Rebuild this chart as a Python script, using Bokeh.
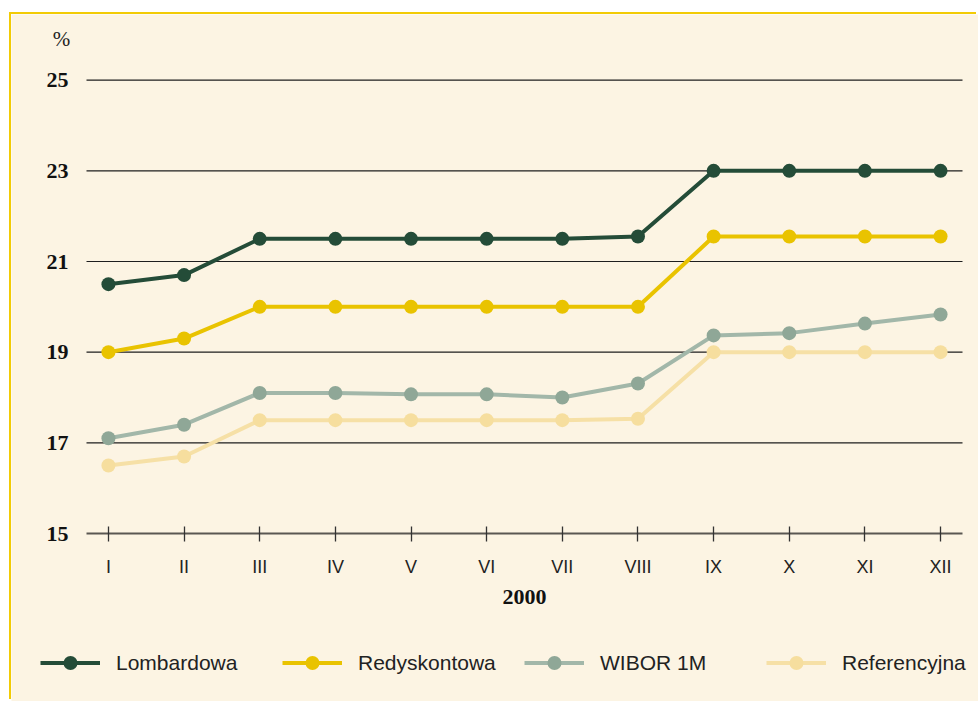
from bokeh.plotting import figure
from bokeh.models import FixedTicker, Legend, LegendItem, Label, Range1d
from bokeh.embed import file_html
from bokeh.resources import INLINE

months = ["I", "II", "III", "IV", "V", "VI", "VII", "VIII", "IX", "X", "XI", "XII"]
lombardowa = [20.5, 20.7, 21.5, 21.5, 21.5, 21.5, 21.5, 21.55, 23.0, 23.0, 23.0, 23.0]
redyskontowa = [19.0, 19.3, 20.0, 20.0, 20.0, 20.0, 20.0, 20.0, 21.55, 21.55, 21.55, 21.55]
wibor_1m = [17.1, 17.4, 18.1, 18.1, 18.07, 18.07, 18.0, 18.31, 19.37, 19.42, 19.63, 19.83]
referencyjna = [16.5, 16.7, 17.5, 17.5, 17.5, 17.5, 17.5, 17.53, 19.0, 19.0, 19.0, 19.0]
series_names = ["Lombardowa", "Redyskontowa", "WIBOR 1M", "Referencyjna"]
y_ticks = [15, 17, 19, 21, 23, 25]
year_label = "2000"
unit_label = "%"

BG = "#fcf4e3"
line_colors = ["#244c38", "#e9c300", "#a2b7a9", "#f6e0a6"]
marker_colors = ["#244c38", "#e9c300", "#8fa797", "#f6de9e"]

x = list(range(len(months)))

# layout geometry (pixels)
W, H = 967, 687
PLOT_L, PLOT_W = 75, 876          # plotting area left / width inside canvas
PLOT_T, PLOT_H = 43, 476          # plotting area top / height inside canvas
X_LO, X_HI = -0.29, len(months) - 1 + 0.29
Y_LO, Y_HI = min(y_ticks), max(y_ticks) + 0.5
xs = (X_HI - X_LO) / PLOT_W
ys = (Y_HI - Y_LO) / PLOT_H
x_range = Range1d(X_LO - PLOT_L * xs, X_LO + (W - PLOT_L) * xs)
y_range = Range1d(Y_LO - (H - PLOT_T - PLOT_H) * ys, Y_HI + PLOT_T * ys)

p = figure(width=W, height=H, x_range=x_range, y_range=y_range,
           output_backend="svg", toolbar_location=None, min_border=0,
           background_fill_color=BG, border_fill_color=BG,
           outline_line_color=None)

p.styles = {"position": "relative", "left": "11px", "top": "14px",
            "box-shadow": "-2px -2px 0 0 #f2cb05"}

# x axis
p.xaxis.fixed_location = Y_LO
p.xaxis.bounds = (X_LO, X_HI)
p.xaxis.ticker = FixedTicker(ticks=x)
p.xaxis.major_label_overrides = {i: m for i, m in enumerate(months)}
p.xaxis.axis_line_color = "#5a5752"
p.xaxis.axis_line_width = 2
p.xaxis.major_tick_in = 7
p.xaxis.major_tick_out = 8
p.xaxis.major_tick_line_color = "#333333"
p.xaxis.major_tick_line_width = 1.3
p.xaxis.minor_tick_line_color = None
p.xaxis.major_label_text_font = "Liberation Sans"
p.xaxis.major_label_text_font_size = "18px"
p.xaxis.major_label_text_color = "#222222"
p.xaxis.major_label_standoff = 15
p.xaxis.axis_label = year_label
p.xaxis.axis_label_text_font = "Liberation Serif"
p.xaxis.axis_label_text_font_style = "bold"
p.xaxis.axis_label_text_font_size = "22px"
p.xaxis.axis_label_text_color = "#111111"
p.xaxis.axis_label_standoff = 10

# y axis
p.yaxis.fixed_location = X_LO
p.yaxis.bounds = (Y_LO, max(y_ticks))
p.yaxis.ticker = FixedTicker(ticks=y_ticks)
p.yaxis.axis_line_color = None
p.yaxis.major_tick_in = 0
p.yaxis.major_tick_out = 0
p.yaxis.minor_tick_line_color = None
p.yaxis.major_label_standoff = 18
p.yaxis.major_label_text_font = "Liberation Serif"
p.yaxis.major_label_text_font_style = "bold"
p.yaxis.major_label_text_font_size = "22px"
p.yaxis.major_label_text_color = "#111111"

p.xgrid.visible = False
p.ygrid.visible = False
grid_vals = y_ticks[1:]
p.segment(x0=X_LO, x1=X_HI, y0=grid_vals, y1=grid_vals,
          line_color="#1e1e1e", line_width=1.2)

items = []
all_series = [lombardowa, redyskontowa, wibor_1m, referencyjna]
for name, vals, lc, mc in zip(series_names, all_series, line_colors, marker_colors):
    rl = p.line(x, vals, line_color=lc, line_width=4)
    rp = p.scatter(x, vals, size=14, fill_color=mc, line_color=None)
    items.append(LegendItem(label=name, renderers=[rl, rp]))

legend = Legend(items=items, location=(29, 21), orientation="horizontal",
                glyph_width=60, glyph_height=35, label_standoff=16,
                label_width=166, spacing=0, padding=0, margin=0,
                label_text_font="Liberation Sans", label_text_font_size="21px",
                label_text_color="#222222", border_line_color=None,
                background_fill_alpha=0)
p.add_layout(legend)

p.add_layout(Label(x=50, y=H - 24, x_units="screen", y_units="screen", text=unit_label,
                   text_font="Liberation Serif", text_font_size="21px",
                   text_align="center", text_baseline="middle", text_color="#222222"))

open("out.html", "w").write(file_html(p, INLINE))
